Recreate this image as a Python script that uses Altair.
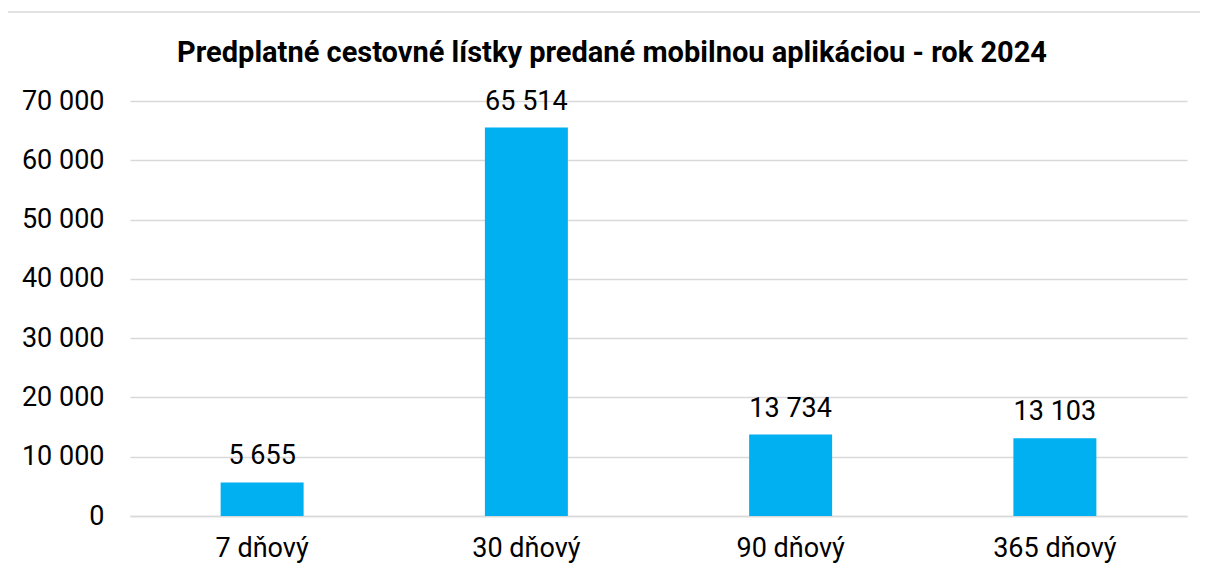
import altair as alt
import pandas as pd

title_text = "Predplatné cestovné lístky predané mobilnou aplikáciou - rok 2024"
categories = ["7 dňový", "30 dňový", "90 dňový", "365 dňový"]
values = [5655, 65514, 13734, 13103]
y_ticks = [0, 10000, 20000, 30000, 40000, 50000, 60000, 70000]

df = pd.DataFrame({"kat": categories, "pocet": values})

FONT = "Roboto"
GRID = "#D9D9D9"
FS = 27

base = alt.Chart(df)

bars = base.mark_bar(color="#00B0F0").encode(
    x=alt.X("kat:N", sort=categories, title=None,
            scale=alt.Scale(paddingInner=0.686, paddingOuter=0.343),
            axis=alt.Axis(labelAngle=0, labelFontSize=FS, labelFont=FONT, labelColor="#000000",
                          ticks=False, domain=True, domainColor=GRID, domainWidth=1.5,
                          labelPadding=19)),
    y=alt.Y("pocet:Q", title=None,
            scale=alt.Scale(domain=[0, 70000], nice=False),
            axis=alt.Axis(values=y_ticks, format=",d", labelFontSize=FS, labelFont=FONT,
                          labelColor="#000000", ticks=False, domain=False,
                          gridColor=GRID, gridWidth=1.5, labelPadding=26)),
)

labels = base.mark_text(font=FONT, fontSize=FS, color="#000000", baseline="alphabetic", dy=-18).encode(
    x=alt.X("kat:N", sort=categories),
    y=alt.Y("pocet:Q"),
    text=alt.Text("pocet:Q", format=",d"),
)

one = alt.Chart(pd.DataFrame({"t": [title_text]}))

border = one.mark_rect(fill=None, stroke=GRID, strokeWidth=1.5, clip=False).encode(
    x=alt.value(-123), x2=alt.value(1090), y=alt.value(-89), y2=alt.value(480)
)

title = one.mark_text(font=FONT, fontSize=29, fontWeight="bold", color="#000000",
                      baseline="alphabetic", align="center").encode(
    x=alt.value(482), y=alt.value(-39), text="t:N"
)

chart = alt.layer(border, bars, labels, title).properties(
    width=1057, height=415,
    autosize=alt.AutoSizeParams(type="none"),
    padding={"left": 122, "top": 93, "right": 13, "bottom": 50},
).configure(
    locale={"number": {"decimal": ",", "thousands": "\u00a0", "grouping": [3], "currency": ["", " €"]}},
    view=alt.ViewConfig(strokeWidth=0),
)

chart.save("out.html", embed_options={"renderer": "svg", "actions": False})
